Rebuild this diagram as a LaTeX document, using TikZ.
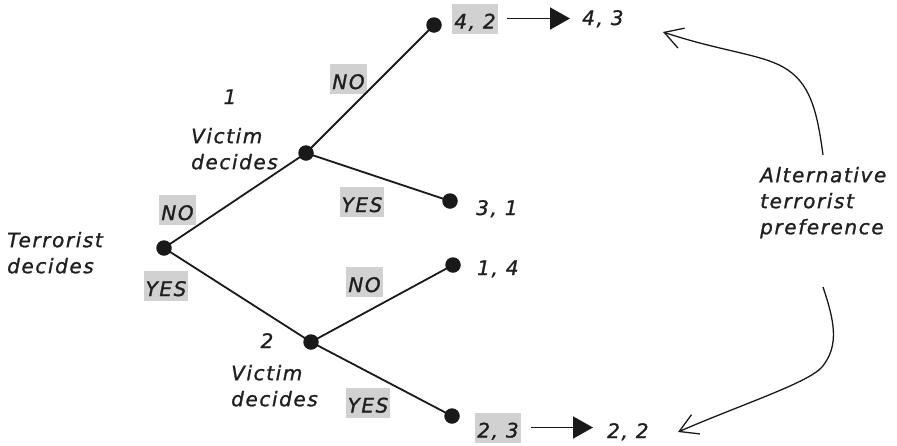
\documentclass[tikz,border=0pt]{standalone}
\usepackage{fontspec}
\usetikzlibrary{arrows.meta}
\newfontfamily\lblfont{DejaVu Sans}[LetterSpace=8, FakeBold=1.2]
\begin{document}
\begin{tikzpicture}[x=1pt,y=-1pt,
  every node/.style={font=\lblfont\itshape\fontsize{20pt}{26pt}\selectfont, text=black!88, inner sep=0pt},
  dot/.style={circle, fill=black!90, minimum size=15.5pt, inner sep=0pt},
  branch/.style={line width=1.8pt, draw=black!90},
  graybox/.style={fill=black!18, text height=20pt, text depth=0pt, minimum height=30pt, inner xsep=2pt},
  caption/.style={align=left, anchor=north west},
  payoff/.style={anchor=base west},
  shiftarrow/.style={line width=1.8pt, draw=black!90, -{Triangle[length=20pt,width=22pt]}},
  pref/.style={line width=1.3pt, draw=black!90, -{Straight Barb[length=18pt,width=21pt]}}
]
\useasboundingbox (0,0) rectangle (897,445);

% branch labels (drawn first so the branches pass over their corners)
\node[graybox] (noT)  at (177.5,210) {NO};
\node[graybox] (yesT) at (166,286)   {YES};
\node[graybox] (no1)  at (348.5,79)  {NO};
\node[graybox] (yes1) at (362,202)   {YES};
\node[graybox] (no2)  at (364.5,282) {NO};
\node[graybox] (yes2) at (368,402.5) {YES};

% decision and end nodes
\node[dot] (t)  at (164,248) {};
\node[dot] (v1) at (306,153) {};
\node[dot] (v2) at (311,342) {};
\node[dot] (l1) at (434,25)  {};
\node[dot] (l2) at (450,201) {};
\node[dot] (l3) at (453,265) {};
\node[dot] (l4) at (452,416) {};

% branches
\draw[branch] (t.center) -- (v1.center);
\draw[branch] (t.center) -- (v2.center);
\draw[branch] (v1.center) -- (l1.center);
\draw[branch] (v1.center) -- (l2.center);
\draw[branch] (v2.center) -- (l3.center);
\draw[branch] (v2.center) -- (l4.center);

% who decides
\node[caption] (tc)  at (7,231.8)   {Terrorist\\decides};
\node[anchor=base] (m1) at (230,104) {1};
\node[caption] (vc1) at (191,127.8) {Victim\\decides};
\node[anchor=base] (m2) at (267,348) {2};
\node[caption] (vc2) at (231,364.8) {Victim\\decides};

% payoffs
\node[graybox] (p1)  at (475,18.5)  {4, 2};
\node[payoff]  (p1b) at (582,25)    {4, 3};
\node[payoff]  (p2)  at (476,215)   {3, 1};
\node[payoff]  (p3)  at (477,275)   {1, 4};
\node[graybox] (p4)  at (498,427.5) {2, 3};
\node[payoff]  (p4b) at (607,438)   {2, 2};

\draw[shiftarrow, shorten <=9pt, shorten >=12pt] (p1.east) -- (p1.east -| p1b.west);
\draw[shiftarrow, shorten <=10pt, shorten >=14pt] (p4.east) -- (p4.east -| p4b.west);

% alternative preference
\node[caption] (alt) at (760,166.8) {Alternative\\terrorist\\preference};
\coordinate (upfrom) at (823,155);
\coordinate (upto)   at (663,32);
\coordinate (dnfrom) at (823,287);
\coordinate (dnto)   at (678,432);
\draw[pref] (upfrom) .. controls (817,110) and (810,82) .. (783,67)
  .. controls (760,54) and (720,51) .. (upto);
\draw[pref] (dnfrom) .. controls (834,320) and (840,345) .. (822,367)
  .. controls (808,383) and (740,405) .. (dnto);
\end{tikzpicture}
\end{document}
